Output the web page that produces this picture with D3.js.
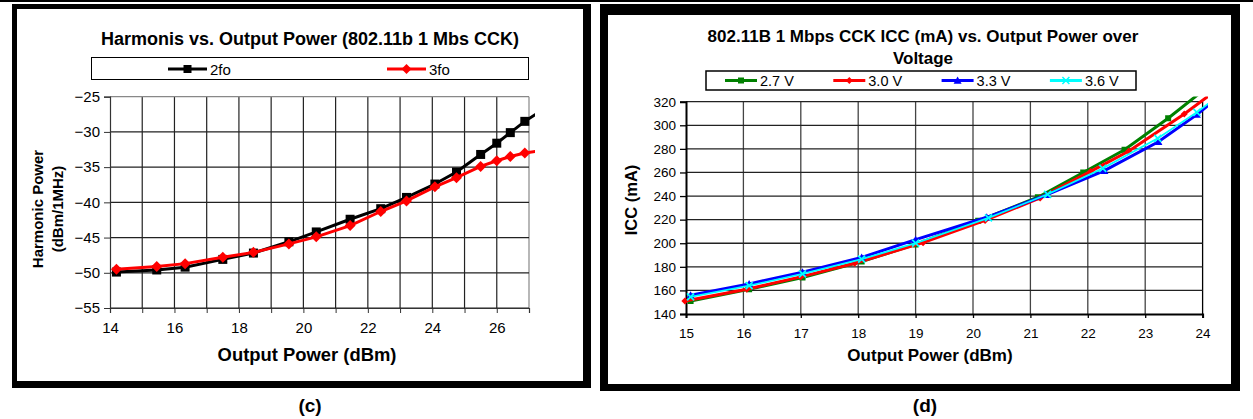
<!DOCTYPE html>
<html>
<head>
<meta charset="utf-8">
<script src="https://cdnjs.cloudflare.com/ajax/libs/d3/7.8.5/d3.min.js"></script>
<style>
  body { margin: 0; background: #fff; }
  text { font-family: "Liberation Sans", Arial, sans-serif; fill: #000; }
</style>
</head>
<body>
<div id="chart"></div>
<script>
// ---- (c) harmonics data ----
var harmPower = [14.2, 15.45, 16.33, 17.5, 18.45, 19.55, 20.4, 21.45, 22.4, 23.2, 24.08, 24.75, 25.5, 26.0, 26.42, 26.87, 27.45];
var harm2fo = [-49.9, -49.6, -49.2, -48.1, -47.2, -45.6, -44.2, -42.4, -40.9, -39.3, -37.4, -35.7, -33.2, -31.6, -30.1, -28.5, -26.8];
var harm3fo = [-49.5, -49.1, -48.7, -47.8, -47.1, -45.9, -44.9, -43.3, -41.3, -39.8, -37.8, -36.5, -34.9, -34.1, -33.5, -33.0, -32.6];
var harmXTicks = [14, 16, 18, 20, 22, 24, 26];
var harmYTicks = [-25, -30, -35, -40, -45, -50, -55];
var harmNames = ["2fo", "3fo"];

// ---- (d) ICC data ----
var icc27X = [15.08, 16.1, 17.03, 18.06, 19.0, 20.09, 21.13, 21.92, 22.64, 23.4, 24.1];
var icc27 = [151, 161, 171, 184.5, 199, 219, 239, 260, 279.3, 306, 333];
var icc30X = [14.98, 16.06, 17.0, 17.94, 19.13, 20.21, 21.17, 22.05, 22.71, 23.68, 24.3];
var icc30 = [151, 161, 171.5, 183, 200.5, 219.3, 238.4, 260.9, 278, 309.6, 332];
var icc33X = [15.08, 16.1, 17.03, 18.06, 19.0, 20.24, 21.28, 22.29, 23.23, 23.9, 24.2];
var icc33 = [156, 165.5, 175.5, 188, 203, 222, 241, 261.5, 286, 309, 321];
var icc36X = [15.08, 16.1, 17.03, 18.06, 19.0, 20.27, 21.3, 22.26, 23.22, 23.9, 24.2];
var icc36 = [154.5, 164, 174, 186.5, 200, 221.5, 241.5, 263.5, 289, 311, 322];
var iccXTicks = [15, 16, 17, 18, 19, 20, 21, 22, 23, 24];
var iccYTicks = [140, 160, 180, 200, 220, 240, 260, 280, 300, 320];
var iccNames = ["2.7 V", "3.0 V", "3.3 V", "3.6 V"];

var svg = d3.select("#chart")
  .append("svg")
  .attr("width", 1253)
  .attr("height", 419);

// page frames
svg.append("rect").attr("x", 0).attr("y", 0).attr("width", 1253).attr("height", 2).attr("fill", "#000");
svg.append("rect").attr("x", 12).attr("y", 4).attr("width", 579).attr("height", 384).attr("fill", "#000");
svg.append("rect").attr("x", 17).attr("y", 9).attr("width", 566).attr("height", 372).attr("fill", "#fff");
svg.append("rect").attr("x", 600).attr("y", 4).attr("width", 640).attr("height", 387).attr("fill", "#000");
svg.append("rect").attr("x", 608).attr("y", 15).attr("width", 623).attr("height", 369).attr("fill", "#fff");

function diamond(r) {
  return "M0," + (-r) + "L" + r + ",0L0," + r + "L" + (-r) + ",0Z";
}
function square(r) {
  return "M" + (-r) + "," + (-r) + "H" + r + "V" + r + "H" + (-r) + "Z";
}
function triangle(r) {
  return "M0," + (-r) + "L" + r + "," + (r * 0.8) + "L" + (-r) + "," + (r * 0.8) + "Z";
}
function cross(r) {
  return "M" + (-r) + "," + (-r) + "L" + r + "," + r + "M" + (-r) + "," + r + "L" + r + "," + (-r);
}

// =================== chart (c) ===================
var cW = 419, cH = 211.3;
var cg = svg.append("g").attr("transform", "translate(110, 96.7)");

var xC = d3.scaleLinear().domain([14, 27]).range([0, cW]);
var yC = d3.scaleLinear().domain([-55, -25]).range([cH, 0]);

// grid
cg.selectAll(".vg").data(d3.range(15, 28)).enter().append("line")
  .attr("x1", d => xC(d)).attr("x2", d => xC(d))
  .attr("y1", 0).attr("y2", cH)
  .attr("stroke", d => d == 27 ? "#888" : "#222").attr("stroke-width", 1.2);
cg.selectAll(".hg").data(harmYTicks).enter().append("line")
  .attr("x1", 0).attr("x2", cW)
  .attr("y1", d => yC(d)).attr("y2", d => yC(d))
  .attr("stroke", d => d == -25 ? "#888" : "#222").attr("stroke-width", 1.2);

var cxAxis = cg.append("g")
  .attr("transform", `translate(0, ${cH})`)
  .call(d3.axisBottom(xC).tickValues(d3.range(14, 28)).tickSize(5).tickPadding(9)
    .tickFormat(d => harmXTicks.indexOf(d) >= 0 ? d : ""));
var cyAxis = cg.append("g")
  .call(d3.axisLeft(yC).tickValues(harmYTicks).tickSize(6).tickPadding(4));
[cxAxis, cyAxis].forEach(function(a) {
  a.select(".domain").attr("stroke", "#333").attr("stroke-width", 1.2);
  a.selectAll("line").attr("stroke", "#333");
  a.selectAll("text").style("font-size", "15px").attr("fill", "#000");
});

svg.append("defs").append("clipPath").attr("id", "clipC")
  .append("rect").attr("x", 106).attr("y", 90).attr("width", 429).attr("height", 222);
svg.append("defs").append("clipPath").attr("id", "clipD")
  .append("rect").attr("x", 680).attr("y", 96.5).attr("width", 528).attr("height", 222);

var cData = [
  { name: harmNames[0], color: "#000", values: harm2fo, marker: square(4.5) },
  { name: harmNames[1], color: "#ff0000", values: harm3fo, marker: diamond(5.5) }
];
var cPlot = svg.append("g").attr("clip-path", "url(#clipC)")
  .append("g").attr("transform", "translate(110, 96.7)");
var lineC = d3.line().x(d => xC(d[0])).y(d => yC(d[1]));
cData.forEach(function(s) {
  var pts = harmPower.map((x, i) => [x, s.values[i]]);
  cPlot.append("path").datum(pts)
    .attr("d", lineC).attr("fill", "none")
    .attr("stroke", s.color).attr("stroke-width", 3);
  cPlot.selectAll(null).data(pts).enter().append("path")
    .attr("d", s.marker)
    .attr("transform", d => `translate(${xC(d[0])}, ${yC(d[1])})`)
    .attr("fill", s.color);
});

// titles (c)
svg.append("text").attr("x", 310).attr("y", 45).attr("text-anchor", "middle")
  .style("font-size", "18px").style("font-weight", "bold")
  .text("Harmonis vs. Output Power (802.11b 1 Mbs CCK)");
svg.append("text").attr("x", 307).attr("y", 361).attr("text-anchor", "middle")
  .style("font-size", "18.4px").style("font-weight", "bold")
  .text("Output Power (dBm)");
var cyl = svg.append("text").attr("transform", "translate(43, 209) rotate(-90)")
  .attr("text-anchor", "middle").style("font-size", "15px").style("font-weight", "bold");
cyl.append("tspan").attr("x", 0).attr("y", 0).text("Harmonic Power");
cyl.append("tspan").attr("x", 0).attr("y", 20).text("(dBm/1MHz)");

// legend (c)
svg.append("rect").attr("x", 91.5).attr("y", 57.5).attr("width", 437).attr("height", 22)
  .attr("fill", "#fff").attr("stroke", "#000").attr("stroke-width", 1);
var cLeg = svg.selectAll(".cleg").data(cData).enter().append("g")
  .attr("transform", (d, i) => `translate(${168 + i * 219}, 69)`);
cLeg.append("line").attr("x1", 0).attr("x2", 39).attr("y1", 0).attr("y2", 0)
  .attr("stroke", d => d.color).attr("stroke-width", 3);
cLeg.append("path").attr("d", (d, i) => i == 0 ? square(4) : diamond(5))
  .attr("transform", "translate(19.5, 0)").attr("fill", d => d.color);
cLeg.append("text").attr("x", 42).attr("y", 5.5)
  .style("font-size", "15px").text(d => d.name);

// =================== chart (d) ===================
var dW = 516.6, dH = 212.3;
var dg = svg.append("g").attr("transform", "translate(686, 101.7)");

var xD = d3.scaleLinear().domain([15, 24]).range([0, dW]);
var yD = d3.scaleLinear().domain([140, 320]).range([dH, 0]);

dg.selectAll(".vg").data(iccXTicks.slice(1)).enter().append("line")
  .attr("x1", d => xD(d)).attr("x2", d => xD(d))
  .attr("y1", 0).attr("y2", dH)
  .attr("stroke", d => d == 24 ? "#000" : "#444").attr("stroke-width", 1.3);
dg.selectAll(".hg").data(iccYTicks.slice(1)).enter().append("line")
  .attr("x1", 0).attr("x2", dW)
  .attr("y1", d => yD(d)).attr("y2", d => yD(d))
  .attr("stroke", "#222").attr("stroke-width", 1.3);

var dxAxis = dg.append("g")
  .attr("transform", `translate(0, ${dH})`)
  .call(d3.axisBottom(xD).tickValues(iccXTicks).tickSize(4).tickPadding(10));
var dyAxis = dg.append("g")
  .call(d3.axisLeft(yD).tickValues(iccYTicks).tickSize(6).tickPadding(4));
[dxAxis, dyAxis].forEach(function(a) {
  a.select(".domain").attr("stroke", "#000").attr("stroke-width", 2);
  a.selectAll("line").attr("stroke", "#000").attr("stroke-width", 1.3);
  a.selectAll("text").style("font-size", "13.5px").attr("fill", "#000");
});

var dData = [
  { name: iccNames[0], color: "#008000", xs: icc27X, values: icc27, marker: square(3), w: 3 },
  { name: iccNames[1], color: "#ff0000", xs: icc30X, values: icc30, marker: diamond(3.5), w: 3 },
  { name: iccNames[2], color: "#0000ff", xs: icc33X, values: icc33, marker: triangle(4), w: 3 },
  { name: iccNames[3], color: "#00ffff", xs: icc36X, values: icc36, marker: cross(3.5), w: 1.8 }
];
var dPlot = svg.append("g").attr("clip-path", "url(#clipD)")
  .append("g").attr("transform", "translate(686, 101.7)");
var lineD = d3.line().x(d => xD(d[0])).y(d => yD(d[1]));
dData.forEach(function(s, k) {
  var pts = s.xs.map((x, i) => [x, s.values[i]]);
  dPlot.append("path").datum(pts)
    .attr("d", lineD).attr("fill", "none")
    .attr("stroke", s.color).attr("stroke-width", s.w);
  dPlot.selectAll(null).data(pts).enter().append("path")
    .attr("d", s.marker)
    .attr("transform", d => `translate(${xD(d[0])}, ${yD(d[1])})`)
    .attr("fill", k == 3 ? "none" : s.color)
    .attr("stroke", k == 3 ? s.color : "none")
    .attr("stroke-width", 1.8);
});

// titles (d)
svg.append("text").attr("x", 923).attr("y", 41.5).attr("text-anchor", "middle")
  .style("font-size", "17px").style("font-weight", "bold")
  .text("802.11B 1 Mbps CCK ICC (mA) vs. Output Power over");
svg.append("text").attr("x", 923).attr("y", 64).attr("text-anchor", "middle")
  .style("font-size", "17px").style("font-weight", "bold")
  .text("Voltage");
svg.append("text").attr("x", 930).attr("y", 361).attr("text-anchor", "middle")
  .style("font-size", "17px").style("font-weight", "bold")
  .text("Output Power (dBm)");
svg.append("text").attr("transform", "translate(637, 200) rotate(-90)")
  .attr("text-anchor", "middle").style("font-size", "16.5px").style("font-weight", "bold")
  .text("ICC (mA)");

// legend (d)
svg.append("rect").attr("x", 706).attr("y", 71).attr("width", 430).attr("height", 19)
  .attr("fill", "#fff").attr("stroke", "#000").attr("stroke-width", 1.5);
var dLeg = svg.selectAll(".dleg").data(dData).enter().append("g")
  .attr("transform", (d, i) => `translate(${725 + i * 108.3}, 80.5)`);
dLeg.append("line").attr("x1", 0).attr("x2", 32).attr("y1", 0).attr("y2", 0)
  .attr("stroke", d => d.color).attr("stroke-width", 3);
dLeg.append("path").attr("d", d => d.marker)
  .attr("transform", "translate(16, 0)")
  .attr("fill", (d, i) => i == 3 ? "none" : d.color)
  .attr("stroke", (d, i) => i == 3 ? d.color : "none").attr("stroke-width", 1.5);
dLeg.append("text").attr("x", 35).attr("y", 5.5)
  .style("font-size", "14.5px").text(d => d.name);

// panel captions
svg.append("text").attr("x", 310).attr("y", 412).attr("text-anchor", "middle")
  .style("font-size", "19px").style("font-weight", "bold").text("(c)");
svg.append("text").attr("x", 925).attr("y", 412).attr("text-anchor", "middle")
  .style("font-size", "19px").style("font-weight", "bold").text("(d)");
</script>
</body>
</html>
